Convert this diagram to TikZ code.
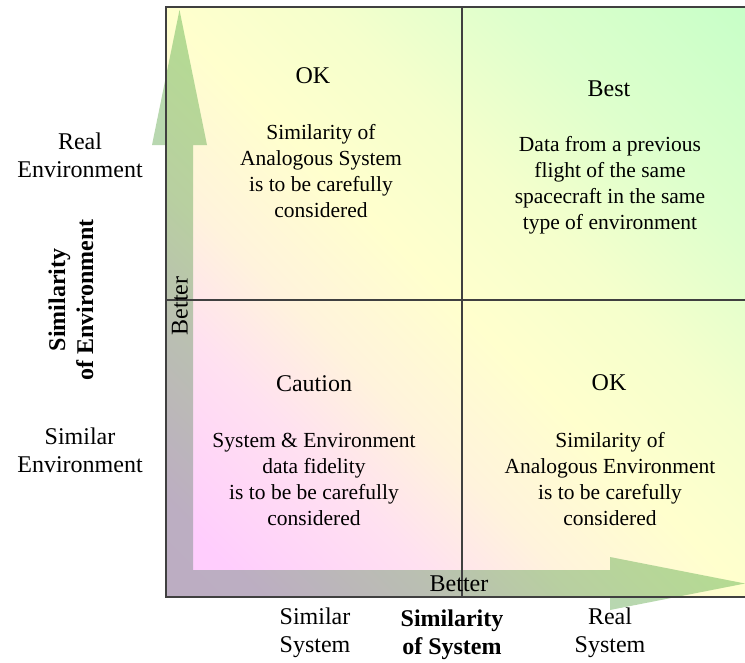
\documentclass[tikz,border=0pt]{standalone}
\usepackage{fontspec}
\setmainfont{Liberation Serif}
\definecolor{bgpink}{RGB}{255,200,255}
\definecolor{bgpinkb}{RGB}{255,205,253}
\definecolor{bgpinkc}{RGB}{255,225,240}
\definecolor{bgcream}{RGB}{255,243,220}
\definecolor{bgyel}{RGB}{255,255,205}
\definecolor{bgyelg}{RGB}{245,255,204}
\definecolor{bglgrn}{RGB}{222,255,204}
\definecolor{bggrn}{RGB}{200,255,200}
\definecolor{argray}{RGB}{128,146,140}
\definecolor{argmid}{RGB}{120,176,106}
\definecolor{argrn}{RGB}{112,190,88}
\pgfdeclarehorizontalshading{quadbg}{100bp}{color(0bp)=(bgpink); color(20bp)=(bgpinkb); color(32bp)=(bgpinkc); color(40bp)=(bgcream); color(50bp)=(bgyel); color(60bp)=(bgyelg); color(71bp)=(bglgrn); color(85bp)=(bggrn); color(100bp)=(bggrn)}
\pgfdeclarehorizontalshading{arrowbg}{100bp}{color(0bp)=(argray); color(22bp)=(argray); color(40bp)=(argmid); color(55bp)=(argrn); color(100bp)=(argrn)}
\tikzset{
  body/.style={align=center, font=\fontsize{21.5}{26}\selectfont, inner sep=0pt},
  title/.style={font=\fontsize{24}{28}\selectfont, inner sep=0pt},
  side/.style={align=center, font=\fontsize{24}{28}\selectfont, inner sep=0pt},
  axlabel/.style={align=center, font=\fontsize{24}{28}\selectfont\bfseries, inner sep=0pt},
  divider/.style={draw=black!75, line width=1.2pt},
  frame/.style={draw=black!75, line width=1.6pt}
}
\begin{document}
\begin{tikzpicture}[x=1pt,y=-1pt]
\useasboundingbox (0,0) rectangle (745,662);
% background
\shade[shading=quadbg, shading angle=45] (166,7) rectangle (745,597);
% arrows
\begin{scope}[opacity=0.52]
\shade[shading=arrowbg, shading angle=45]
  (166,597) -- (610,597) -- (610,610) -- (745,583.5) -- (610,557) -- (610,570)
  -- (193,570) -- (193,145) -- (207,145) -- (179.5,10) -- (152,145) -- (166,145) -- cycle;
\end{scope}
% frame and dividers
\coordinate (tl) at (166,7);
\coordinate (tr) at (745,7);
\coordinate (bl) at (166,597);
\coordinate (br) at (745,597);
\coordinate (mt) at (462,7);
\coordinate (mb) at (462,597);
\coordinate (ml) at (166,300);
\coordinate (mr) at (745,300);
\draw[divider] (mt) -- (mb);
\draw[divider] (ml) -- (mr);
\draw[frame] (tr) -- (tl) -- (bl) -- (br);
% quadrant texts
\node[title] (tlt) at (313,76) {OK};
\node[body] (tlb) at (321,171) {Similarity of\\Analogous System\\is to be carefully\\considered};
\node[title] (trt) at (609,89) {Best};
\node[body] (trb) at (610,185) {Data from a previous\\flight of the same\\spacecraft in the same\\type of environment};
\node[title] (blt) at (314,384) {Caution};
\node[body] (blb) at (314,479) {System \& Environment\\data fidelity\\is to be be carefully\\considered};
\node[title] (brt) at (609,383) {OK};
\node[body] (brb) at (610,479) {Similarity of\\Analogous Environment\\is to be carefully\\considered};
% axis labels
\node[title] (betv) at (180,306) [rotate=90] {Better};
\node[title] (beth) at (459,584) {Better};
\node[side] (realenv) at (80,155) {Real\\Environment};
\node[side] (simenv) at (80,450) {Similar\\Environment};
\node[axlabel, rotate=90] (simofenv) at (71,300) {Similarity\\of Environment};
\node[side] (simsys) at (315,633) {Similar\\System};
\node[axlabel] (simofsys) at (452,635) {Similarity\\of System};
\node[side] (realsys) at (610,633) {Real\\System};
\end{tikzpicture}
\end{document}
